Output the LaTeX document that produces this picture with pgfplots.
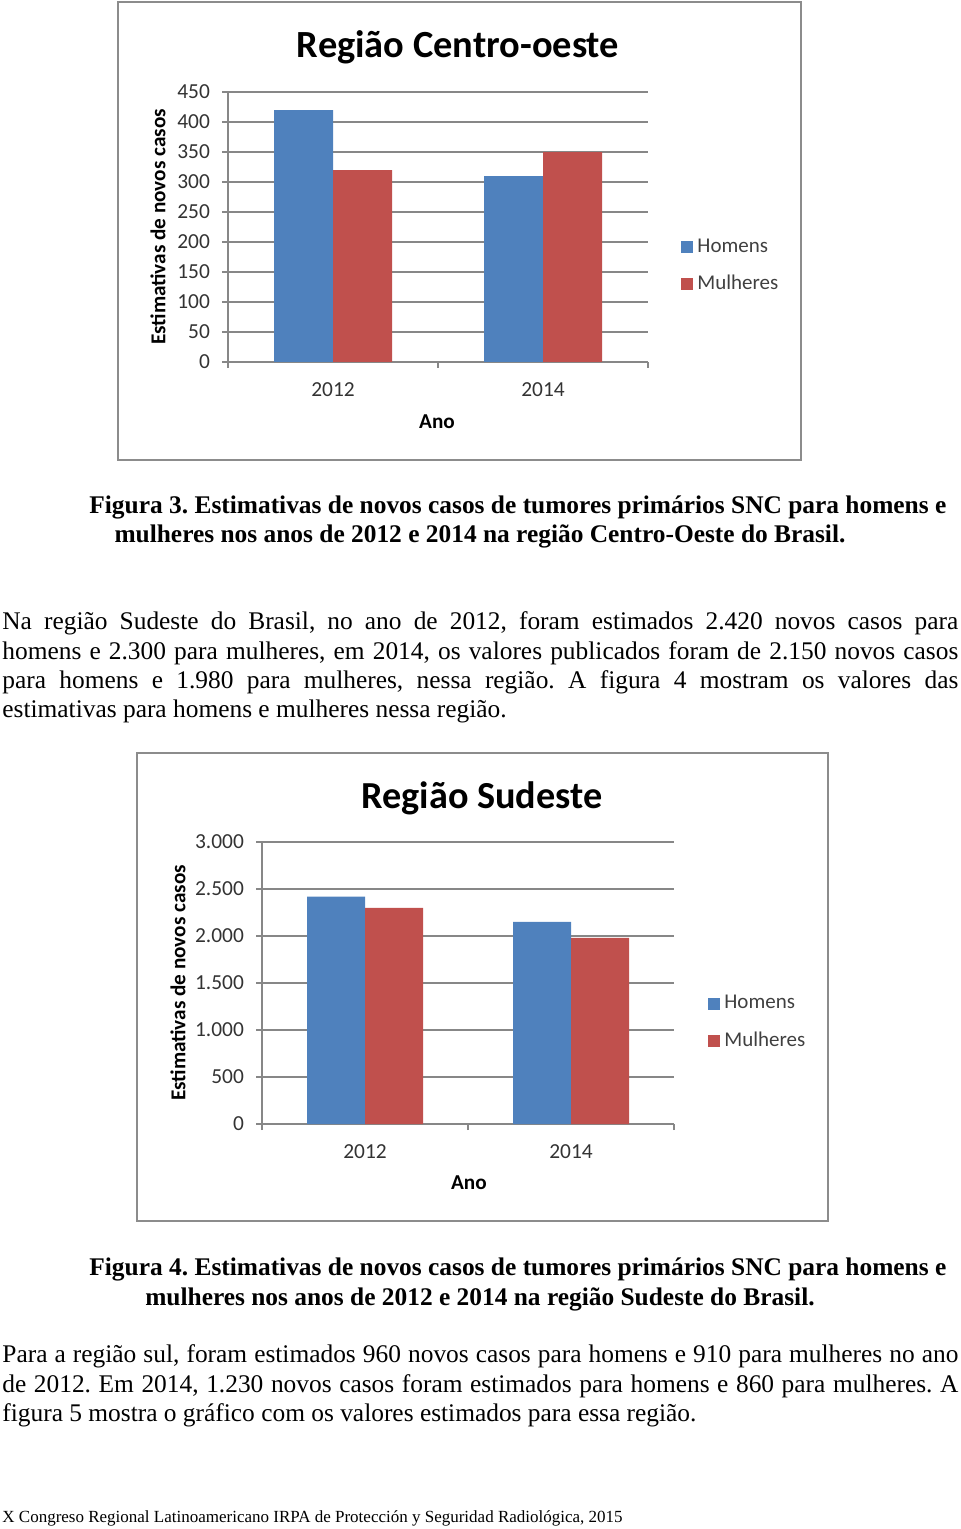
\documentclass[border=0pt]{standalone}
\usepackage{pgfplots}
\pgfplotsset{compat=1.18}
\usepackage{fontspec}
\setmainfont{Liberation Serif}
\newfontfamily\calf{Carlito}
\definecolor{hom}{HTML}{4F81BD}
\definecolor{mul}{HTML}{C0504D}
\definecolor{gridc}{HTML}{878787}
\definecolor{framec}{HTML}{8C8C8C}
\frenchspacing
\pgfplotsset{chart/.style={
  scale only axis, anchor=south west,
  ybar=0pt, xmin=0, xmax=2, ymin=0,
  separate axis lines, axis x line*=bottom, axis y line*=left,
  axis line style={-, draw=gridc, line width=0.6pt},
  tick style={draw=gridc, line width=0.6pt},
  tick align=outside, major tick length=3pt,
  ymajorgrids, major grid style={draw=gridc, line width=0.6pt},
  xtick={0,1,2}, xticklabels={},
  extra x ticks={0.5,1.5}, extra x tick labels={2012,2014},
  extra x tick style={major tick length=0pt, xticklabel style={yshift=-7pt}},
  /pgf/number format/assume math mode=true,
  tick label style={font=\calf\fontsize{10.7}{12}\selectfont, text=black!80},
  yticklabel style={xshift=-2.5pt},
  ylabel={Estimativas de novos casos}, xlabel={Ano},
  ylabel style={font=\calf\bfseries\fontsize{10.6}{12}\selectfont, rotate=0, anchor=center},
  xlabel style={font=\calf\bfseries\fontsize{10.6}{12}\selectfont, anchor=center},
  legend style={draw=none, fill=none, anchor=west, inner sep=0pt,
    font=\calf\fontsize{10.5}{12}\selectfont, text=black!75, row sep=8pt,
    nodes={inner sep=1pt}, /tikz/every odd column/.append style={column sep=1pt}},
  legend cell align=left,
}}
\newcommand{\body}{\fontsize{12.7}{14.6}\selectfont}
\newcommand{\jline}[2]{\node[anchor=base west, inner sep=0pt] at (1pt,#1) {\body\makebox[478pt][s]{#2}};}
\newcommand{\lline}[2]{\node[anchor=base west, inner sep=0pt] at (1pt,#1) {\body #2};}
\begin{document}
\begin{tikzpicture}
\useasboundingbox (0,0) rectangle (480pt,-764.5pt);
% ---------- Chart 1 ----------
\draw[framec, line width=0.8pt] (59pt,-1pt) rectangle (400.5pt,-230pt);
\node[font=\calf\bfseries\fontsize{19.2}{22}\selectfont] at (229pt,-23.5pt) {Região Centro-oeste};
\begin{axis}[chart, at={(114pt,-181pt)}, width=210pt, height=135pt,
  ymax=450, ytick={0,50,...,450},
  yticklabels={0,50,100,150,200,250,300,350,400,450},
  bar width=29.5pt,
  legend style={at={(1.0786,0.356)}},
  ylabel style={at={(rel axis cs:-0.1667,0.5)}},
  xlabel style={at={(rel axis cs:0.4976,-0.222)}}]
\addplot[fill=hom, draw=none, legend image code/.code={\fill[hom] (0pt,-3pt) rectangle (6pt,3pt);}] coordinates {(0.5,420) (1.5,310)};
\addplot[fill=mul, draw=none, legend image code/.code={\fill[mul] (0pt,-3pt) rectangle (6pt,3pt);}] coordinates {(0.5,320) (1.5,350)};
\legend{Homens, Mulheres}
\end{axis}
% ---------- Caption 3 ----------
\node[anchor=base west, inner sep=0pt] at (44.5pt,-256.5pt) {\body\bfseries\makebox[428.5pt][s]{Figura 3. Estimativas de novos casos de tumores primários SNC para homens e}};
\node[anchor=base, inner sep=0pt] at (240pt,-271pt) {\body\bfseries mulheres nos anos de 2012 e 2014 na região Centro-Oeste do Brasil.};
% ---------- Paragraph ----------
\jline{-314.5pt}{Na região Sudeste do Brasil, no ano de 2012, foram estimados 2.420 novos casos para}
\jline{-329.5pt}{homens e 2.300 para mulheres, em 2014, os valores publicados foram de 2.150 novos casos}
\jline{-344pt}{para homens e 1.980 para mulheres, nessa região. A figura 4 mostram os valores das}
\lline{-358.5pt}{estimativas para homens e mulheres nessa região.}
% ---------- Chart 2 ----------
\draw[framec, line width=0.8pt] (68.5pt,-376.5pt) rectangle (414pt,-610.5pt);
\node[font=\calf\bfseries\fontsize{19.1}{22}\selectfont] at (241pt,-399pt) {Região Sudeste};
\begin{axis}[chart, at={(131pt,-562pt)}, width=206pt, height=141pt,
  ymax=3000, ytick={0,500,...,3000},
  yticklabels={0,500,1.000,1.500,2.000,2.500,3.000},
  bar width=29pt,
  legend style={at={(1.0825,0.360)}},
  ylabel style={at={(rel axis cs:-0.204,0.5)}},
  xlabel style={at={(rel axis cs:0.502,-0.209)}}]
\addplot[fill=hom, draw=none, legend image code/.code={\fill[hom] (0pt,-3pt) rectangle (6pt,3pt);}] coordinates {(0.5,2420) (1.5,2150)};
\addplot[fill=mul, draw=none, legend image code/.code={\fill[mul] (0pt,-3pt) rectangle (6pt,3pt);}] coordinates {(0.5,2300) (1.5,1980)};
\legend{Homens, Mulheres}
\end{axis}
% ---------- Caption 4 ----------
\node[anchor=base west, inner sep=0pt] at (44.5pt,-637.5pt) {\body\bfseries\makebox[428.5pt][s]{Figura 4. Estimativas de novos casos de tumores primários SNC para homens e}};
\node[anchor=base, inner sep=0pt] at (240pt,-652.5pt) {\body\bfseries mulheres nos anos de 2012 e 2014 na região Sudeste do Brasil.};
% ---------- Paragraph 2 ----------
\jline{-681pt}{Para a região sul, foram estimados 960 novos casos para homens e 910 para mulheres no ano}
\jline{-696pt}{de 2012. Em 2014, 1.230 novos casos foram estimados para homens e 860 para mulheres. A}
\lline{-710.5pt}{figura 5 mostra o gráfico com os valores estimados para essa região.}
% ---------- Footer ----------
\node[anchor=base west, inner sep=0pt] at (1pt,-761pt) {\fontsize{8.5}{10}\selectfont X Congreso Regional Latinoamericano IRPA de Protección y Seguridad Radiológica, 2015};
\end{tikzpicture}
\end{document}
